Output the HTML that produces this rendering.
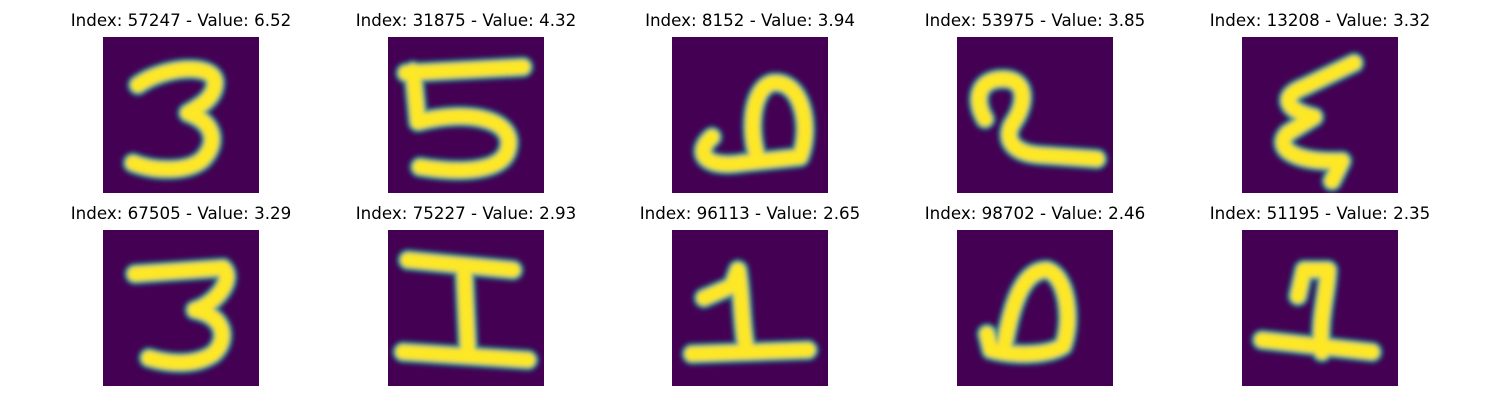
<!DOCTYPE html>
<html><head><meta charset="utf-8">
<style>
html,body{margin:0;padding:0;background:#fff;}
body{width:1500px;height:400px;position:relative;overflow:hidden;font-family:"DejaVu Sans","Liberation Sans",sans-serif;}
.title{position:absolute;font-size:16.7px;color:#000;white-space:nowrap;transform:translateX(-50%);}
svg.img{position:absolute;width:156px;height:156px;}
</style></head>
<body>
<div id="root"></div>
<script>
const indices=[57247,31875,8152,53975,13208,67505,75227,96113,98702,51195];
const values=["6.52","4.32","3.94","3.85","3.32","3.29","2.93","2.65","2.46","2.35"];
const strokes=[
 ["M35,48 C60,30 110,25 112,45 C112,62 95,70 85,76 C112,86 115,106 100,122 C85,136 50,134 30,126"],
 ["M18,36 L135,30","M25,34 L30,85 C80,72 128,82 120,112 C114,136 70,136 32,130"],
 ["M40,100 C22,115 32,132 70,126 L128,120 C140,90 130,42 100,46 C80,52 76,92 86,122"],
 ["M28,82 C16,62 22,42 46,42 C70,42 70,66 56,86 C46,102 56,116 82,118 L140,122"],
 ["M112,26 L62,50 C36,60 46,74 72,80 L46,96 C32,110 50,126 100,124 L90,144"],
 ["M32,44 L120,38 C132,50 112,74 92,80 C122,86 126,110 110,124 C92,136 66,134 46,128"],
 ["M20,30 L125,40","M76,36 L80,122","M15,122 L140,130"],
 ["M32,68 L60,56 L66,40 C70,62 70,100 74,116","M20,124 L136,120"],
 ["M48,112 C54,80 64,40 90,40 C110,46 116,90 106,116 C90,126 56,126 34,120 L30,104"],
 ["M56,66 L62,40 L86,40 C86,60 76,90 80,122","M20,110 L130,122"]
];
const colX=[103,388,672,957,1242], rowY=[37,230];
const root=document.getElementById('root');
const NS="http://www.w3.org/2000/svg";
indices.forEach((idx,i)=>{
 const r=Math.floor(i/5), c=i%5;
 const t=document.createElement('div');
 t.className='title';
 
 
 t.style.left=(colX[c]+78)+'px';
 t.style.top=(rowY[r]-27)+'px';
 t.textContent='Index: '+idx+' - Value: '+values[i];
 root.appendChild(t);
 const s=document.createElementNS(NS,'svg');
 s.setAttribute('class','img');
 
 
 s.setAttribute('viewBox','0 0 156 156');
 s.style.left=colX[c]+'px'; s.style.top=rowY[r]+'px';
 let html='<defs><filter id="b'+i+'" filterUnits="userSpaceOnUse" x="0" y="0" width="156" height="156"><feGaussianBlur stdDeviation="2"/></filter></defs><rect width="156" height="156" fill="#440154"/><g filter="url(#b'+i+')">';
 strokes[i].forEach(d=>{
  html+='<path d="'+d+'" fill="none" stroke="#21918c" stroke-width="22" stroke-linecap="round" stroke-linejoin="round"/>';
 });
 strokes[i].forEach(d=>{
  html+='<path d="'+d+'" fill="none" stroke="#fde725" stroke-width="14" stroke-linecap="round" stroke-linejoin="round"/>';
 });
 html+='</g>';
 s.innerHTML=html;
 root.appendChild(s);
});
</script>
</body></html>
